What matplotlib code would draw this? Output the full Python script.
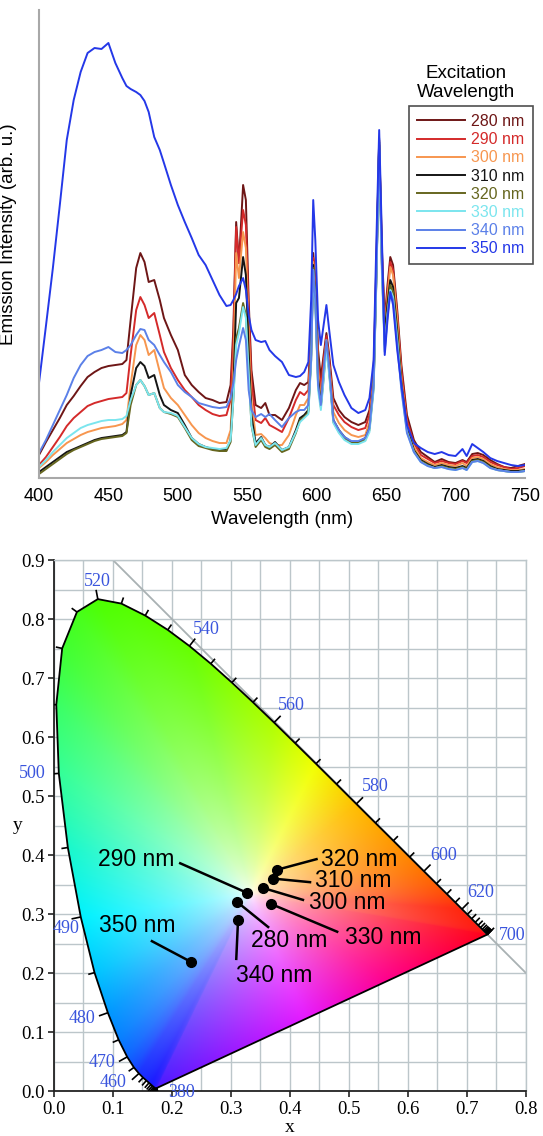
import numpy as np
import matplotlib
matplotlib.use('Agg')
import matplotlib.pyplot as plt
from matplotlib.patches import Polygon
from matplotlib.collections import LineCollection

plt.rcParams['font.family'] = 'Liberation Sans'

# ---- emission spectra (arb. u.) ----
wavelength = [400, 405, 410, 415, 420, 425, 430, 435, 440, 445, 450, 455, 460,
              463, 466, 470, 473, 476, 479, 483, 487, 490,
              495, 500, 505, 510, 515, 520, 525, 530, 535,
              538, 540, 542, 544, 547, 549, 551, 553, 556,
              560, 563, 566, 570, 575, 580, 585, 588, 591, 594,
              596, 597.5, 599, 601, 603, 605, 607, 609, 612, 616,
              620, 625, 630, 635, 638, 641, 643, 645, 647, 649, 651, 653, 655, 658, 661, 665, 670,
              675, 680, 685, 690, 695, 700, 705, 708, 712, 716, 720, 725, 730, 735, 740, 745, 750]

em_280 = [23, 36, 48, 60, 73, 82, 92, 101, 106, 110, 112, 113, 114,
          118, 158, 210, 225, 216, 196, 198, 178, 160,
          143, 128, 103, 93, 86, 80, 78, 75, 76,
          93, 150, 256, 215, 293, 278, 178, 108, 73,
          70, 75, 63, 63, 58, 70, 88, 95, 93, 96,
          148, 225, 198, 128, 100, 123, 145, 123, 80, 68,
          61, 56, 53, 56, 68, 108, 218, 338, 228, 158, 193, 221, 213, 168, 113, 63, 38,
          26, 21, 16, 19, 16, 15, 18, 16, 24, 25, 23, 18, 14, 11, 10, 12, 14]

em_290 = [13, 21, 31, 41, 52, 60, 66, 72, 75, 77, 79, 80, 81,
          85, 123, 168, 181, 173, 160, 165, 143, 126,
          110, 98, 88, 81, 73, 68, 64, 62, 63,
          78, 140, 251, 215, 268, 253, 168, 98, 58,
          55, 60, 53, 50, 46, 60, 78, 86, 83, 88,
          143, 220, 193, 118, 88, 118, 142, 118, 73, 63,
          56, 51, 48, 50, 63, 103, 213, 333, 223, 153, 186, 216, 208, 163, 108, 58, 35,
          23, 19, 15, 17, 15, 14, 17, 15, 22, 23, 21, 16, 13, 11, 9, 10, 12]

em_300 = [10, 16, 23, 29, 35, 39, 43, 46, 48, 50, 51, 52, 54,
          58, 93, 133, 143, 138, 123, 128, 106, 90,
          80, 73, 63, 53, 45, 40, 37, 35, 35,
          48, 110, 225, 200, 246, 230, 148, 78, 43,
          44, 40, 35, 33, 33, 43, 63, 73, 73, 80,
          133, 216, 188, 108, 78, 108, 138, 113, 66, 55,
          48, 43, 41, 43, 56, 98, 208, 338, 218, 148, 181, 211, 203, 158, 100, 53, 31,
          20, 16, 13, 15, 13, 12, 15, 12, 20, 21, 19, 14, 11, 9, 8, 8, 9]

em_310 = [6, 11, 16, 21, 26, 29, 32, 35, 38, 40, 41, 42, 43,
          46, 83, 110, 116, 112, 100, 103, 83, 73,
          68, 65, 53, 40, 34, 31, 29, 28, 28,
          38, 90, 175, 180, 221, 203, 128, 63, 35,
          41, 33, 31, 36, 28, 31, 48, 60, 63, 68,
          123, 213, 183, 100, 73, 103, 136, 108, 58, 48,
          41, 36, 36, 40, 50, 93, 203, 336, 213, 145, 175, 198, 191, 148, 95, 50, 28,
          18, 14, 11, 13, 11, 10, 12, 10, 18, 19, 17, 12, 9, 8, 7, 7, 8]

em_320 = [4, 9, 14, 19, 24, 28, 31, 34, 37, 39, 40, 41, 42,
          45, 73, 93, 98, 92, 83, 85, 70, 66,
          64, 61, 50, 38, 32, 30, 28, 27, 27,
          36, 80, 140, 150, 175, 163, 108, 53, 31,
          38, 31, 29, 33, 26, 29, 45, 58, 61, 66,
          118, 210, 178, 93, 71, 100, 133, 106, 56, 46,
          39, 35, 35, 38, 48, 90, 200, 333, 208, 133, 168, 193, 186, 143, 93, 48, 27,
          17, 13, 10, 12, 10, 9, 11, 9, 17, 18, 16, 11, 8, 7, 6, 6, 7]

em_330 = [11, 18, 26, 33, 40, 45, 50, 53, 55, 57, 58, 58, 59,
          62, 78, 93, 98, 92, 83, 85, 70, 66,
          65, 62, 51, 40, 34, 31, 30, 29, 30,
          38, 78, 133, 145, 171, 160, 106, 53, 33,
          40, 33, 31, 35, 28, 31, 46, 56, 60, 64,
          116, 208, 173, 88, 68, 98, 130, 103, 55, 45,
          38, 34, 34, 37, 46, 88, 198, 328, 203, 128, 163, 188, 181, 138, 90, 46, 26,
          16, 12, 10, 11, 9, 8, 10, 8, 16, 17, 15, 10, 8, 7, 6, 6, 7]

em_340 = [25, 38, 53, 68, 83, 100, 113, 122, 126, 128, 131, 126, 125,
          128, 133, 143, 149, 148, 138, 133, 123, 116,
          106, 93, 86, 81, 75, 73, 71, 70, 71,
          80, 95, 118, 132, 150, 138, 88, 68, 61,
          64, 61, 64, 58, 51, 60, 66, 68, 68, 73,
          118, 208, 178, 93, 73, 108, 138, 110, 58, 48,
          41, 37, 37, 40, 50, 93, 203, 340, 213, 126, 163, 186, 178, 133, 88, 45, 26,
          16, 12, 10, 11, 9, 8, 10, 8, 16, 17, 15, 10, 8, 7, 6, 6, 7]

em_350 = [95, 152, 210, 273, 338, 378, 406, 425, 430, 429, 435, 415, 400,
          392, 389, 386, 383, 377, 366, 341, 328, 315,
          293, 273, 256, 240, 223, 213, 198, 183, 172,
          173, 178, 184, 192, 200, 188, 163, 148, 138,
          136, 137, 128, 122, 116, 103, 101, 102, 106, 116,
          178, 278, 238, 158, 133, 153, 173, 148, 113, 96,
          83, 70, 65, 68, 80, 118, 238, 348, 238, 123, 158, 186, 173, 128, 93, 53, 35,
          30, 26, 24, 26, 23, 22, 29, 22, 34, 30, 26, 20, 17, 15, 13, 12, 13]

excitation = ['280 nm', '290 nm', '300 nm', '310 nm', '320 nm', '330 nm', '340 nm', '350 nm']
spectra = [em_280, em_290, em_300, em_310, em_320, em_330, em_340, em_350]
line_colors = ['#6e1616', '#d42a2a', '#f7964f', '#151515',
               '#66661f', '#7be5ee', '#5b80e8', '#2438e8']

# ---- CIE 1931 spectral locus (380-700 nm, 5 nm steps) ----
locus_nm = list(range(380, 701, 5))
locus_x = [0.1741, 0.1740, 0.1738, 0.1736, 0.1733, 0.1730, 0.1726, 0.1721, 0.1714, 0.1703,
           0.1689, 0.1669, 0.1644, 0.1611, 0.1566, 0.1510, 0.1440, 0.1355, 0.1241, 0.1096,
           0.0913, 0.0687, 0.0454, 0.0235, 0.0082, 0.0039, 0.0139, 0.0389, 0.0743, 0.1142,
           0.1547, 0.1929, 0.2296, 0.2658, 0.3016, 0.3373, 0.3731, 0.4087, 0.4441, 0.4788,
           0.5125, 0.5448, 0.5752, 0.6029, 0.6270, 0.6482, 0.6658, 0.6801, 0.6915, 0.7006,
           0.7079, 0.7140, 0.7190, 0.7230, 0.7260, 0.7283, 0.7300, 0.7311, 0.7320, 0.7327,
           0.7334, 0.7340, 0.7344, 0.7346, 0.7347]
locus_y = [0.0050, 0.0050, 0.0049, 0.0049, 0.0048, 0.0048, 0.0048, 0.0048, 0.0051, 0.0058,
           0.0069, 0.0086, 0.0109, 0.0138, 0.0177, 0.0227, 0.0297, 0.0399, 0.0578, 0.0868,
           0.1327, 0.2007, 0.2950, 0.4127, 0.5384, 0.6548, 0.7502, 0.8120, 0.8338, 0.8262,
           0.8059, 0.7816, 0.7543, 0.7243, 0.6923, 0.6589, 0.6245, 0.5896, 0.5547, 0.5202,
           0.4866, 0.4544, 0.4242, 0.3965, 0.3725, 0.3514, 0.3340, 0.3197, 0.3083, 0.2993,
           0.2920, 0.2859, 0.2809, 0.2770, 0.2740, 0.2717, 0.2700, 0.2689, 0.2680, 0.2673,
           0.2666, 0.2660, 0.2656, 0.2654, 0.2653]

# labelled locus wavelengths and text offsets from the locus point
locus_labels = [380, 460, 470, 480, 490, 500, 520, 540, 560, 580, 600, 620, 700]
label_offsets = {380: (0.042, -0.007), 460: (-0.043, -0.016), 470: (-0.043, -0.009),
                 480: (-0.044, -0.009), 490: (-0.025, -0.020), 500: (-0.045, 0.0),
                 520: (-0.001, 0.030), 540: (0.029, 0.028), 560: (0.030, 0.029),
                 580: (0.032, 0.029), 600: (0.034, 0.027), 620: (0.032, 0.029),
                 700: (0.042, -0.001)}

# chromaticity of the emission for each excitation
cie_x = [0.311, 0.327, 0.355, 0.372, 0.378, 0.368, 0.312, 0.232]
cie_y = [0.320, 0.336, 0.344, 0.360, 0.375, 0.317, 0.290, 0.219]
# leader line ends and label centres
lead_x = [0.363, 0.214, 0.422, 0.434, 0.445, 0.480, 0.309, 0.166]
lead_y = [0.278, 0.386, 0.324, 0.354, 0.393, 0.270, 0.224, 0.254]
text_x = [0.398, 0.139, 0.497, 0.508, 0.517, 0.5585, 0.374, 0.141]
text_y = [0.255, 0.392, 0.3195, 0.357, 0.392, 0.260, 0.196, 0.280]

# display colours along the locus and the line of purples
hue_nm = [380, 440, 460, 480, 490, 500, 510, 520, 540, 560, 570, 580, 600, 620, 700]
hue_r = [0.30, 0.10, 0.10, 0.00, 0.00, 0.20, 0.25, 0.30, 0.40, 0.70, 0.95, 1.00, 1.00, 1.00, 1.00]
hue_g = [0.10, 0.10, 0.20, 0.60, 0.95, 1.00, 1.00, 1.00, 1.00, 1.00, 1.00, 0.75, 0.45, 0.15, 0.00]
hue_b = [1.00, 1.00, 1.00, 1.00, 1.00, 0.60, 0.20, 0.00, 0.00, 0.00, 0.00, 0.00, 0.00, 0.05, 0.10]
purple_t = [0, 0.3, 0.55, 1]
purple_r = [1.00, 1.00, 0.90, 0.30]
purple_g = [0.00, 0.00, 0.10, 0.10]
purple_b = [0.10, 0.55, 1.00, 1.00]

fig = plt.figure(figsize=(5.43, 11.36), dpi=100)

# ================= emission spectra =================
ax1 = fig.add_axes([0.0718, 0.5792, 0.895, 0.412])
for vals, lab, col in zip(spectra, excitation, line_colors):
    ax1.plot(wavelength, vals, color=col, lw=1.4, label=lab)

ax1.set_xlim(400, 750)
ax1.set_ylim(0, 468)
ax1.set_xticks(range(400, 751, 50))
ax1.set_yticks([])
ax1.tick_params(axis='x', length=0, pad=7, labelsize=13)
for s in ['top', 'right']:
    ax1.spines[s].set_visible(False)
for s in ['left', 'bottom']:
    ax1.spines[s].set_color('#a8a8a8')
    ax1.spines[s].set_linewidth(1.5)
ax1.set_xlabel('Wavelength (nm)', fontsize=13.5)
ax1.xaxis.set_label_coords(0.5, -0.07)
ax1.set_ylabel('Emission Intensity (arb. u.)', fontsize=13.5)
ax1.yaxis.set_label_coords(-0.045, 0.52)

leg = ax1.legend(loc='upper right', bbox_to_anchor=(1.016, 0.795), fontsize=11.5,
                 frameon=True, fancybox=False, edgecolor='#222222',
                 handlelength=3.0, handletextpad=0.4, labelspacing=0.2,
                 borderpad=0.5, borderaxespad=0)
leg.get_frame().set_linewidth(1.2)
for txt, col in zip(leg.get_texts(), line_colors):
    txt.set_color(col)
ax1.text(0.878, 0.806, 'Excitation\nWavelength', transform=ax1.transAxes,
         ha='center', va='bottom', fontsize=13.5, linespacing=1.1)

# ================= CIE 1931 diagram =================
ax2 = fig.add_axes([0.0994, 0.0396, 0.8692, 0.4674])
ax2.set_xlim(0, 0.8)
ax2.set_ylim(0, 0.9)

grid_col = '#bcc6ca'
ax2.set_xticks(np.arange(0, 0.81, 0.1))
ax2.set_yticks(np.arange(0, 0.91, 0.1))
ax2.set_xticks(np.arange(0, 0.81, 0.05), minor=True)
ax2.set_yticks(np.arange(0, 0.91, 0.05), minor=True)
ax2.set_xticklabels(['%.1f' % v for v in np.arange(0, 0.81, 0.1)])
ax2.set_yticklabels(['%.1f' % v for v in np.arange(0, 0.91, 0.1)])
ax2.grid(which='both', color=grid_col, lw=1.0)
ax2.set_axisbelow(True)
ax2.tick_params(which='major', direction='out', length=4, width=1.2, color='#222222',
                labelsize=13.5, pad=3)
ax2.tick_params(which='minor', length=0)
for lab in ax2.get_xticklabels() + ax2.get_yticklabels():
    lab.set_family('Liberation Serif')
for s in ['top', 'right']:
    ax2.spines[s].set_color(grid_col)
    ax2.spines[s].set_linewidth(1.0)
for s in ['left', 'bottom']:
    ax2.spines[s].set_color('#222222')
    ax2.spines[s].set_linewidth(1.3)

ax2.set_xlabel('x', family='Liberation Serif', fontsize=14)
ax2.xaxis.set_label_coords(0.5, -0.052)
ax2.set_ylabel('y', family='Liberation Serif', fontsize=14, rotation=0, va='center')
ax2.yaxis.set_label_coords(-0.076, 0.5)

# colour fill: hue from the boundary point seen from the white point,
# saturation growing with distance from white
lx = np.array(locus_x)
ly = np.array(locus_y)
white = np.array([1 / 3, 1 / 3])
t = np.linspace(0, 1, 60)[1:-1]
px_ = lx[-1] + (lx[0] - lx[-1]) * t
py_ = ly[-1] + (ly[0] - ly[-1]) * t
locus_rgb = np.stack([np.interp(locus_nm, hue_nm, hue_r),
                      np.interp(locus_nm, hue_nm, hue_g),
                      np.interp(locus_nm, hue_nm, hue_b)], -1)
purple_rgb = np.stack([np.interp(t, purple_t, purple_r),
                       np.interp(t, purple_t, purple_g),
                       np.interp(t, purple_t, purple_b)], -1)
bx = np.concatenate([lx, px_])
by = np.concatenate([ly, py_])
bcol = np.concatenate([locus_rgb, purple_rgb])
bang = np.arctan2(by - white[1], bx - white[0])
bdist = np.hypot(bx - white[0], by - white[1])

gx = np.linspace(0, 0.8, 560)
gy = np.linspace(0, 0.9, 630)
X, Y = np.meshgrid(gx, gy)
ang = np.arctan2(Y - white[1], X - white[0])
dist = np.hypot(X - white[0], Y - white[1])
edge = np.interp(ang, bang, bdist, period=2 * np.pi)
sat = np.clip(dist / edge, 0, 1) ** 0.6
rgb = np.empty(X.shape + (3,))
for c in range(3):
    hue = np.interp(ang, bang, bcol[:, c], period=2 * np.pi)
    rgb[..., c] = 1 - sat * (1 - hue)

outline = Polygon(np.column_stack([lx, ly]), closed=True,
                  facecolor='none', edgecolor='black', lw=1.3, zorder=3)
ax2.add_patch(outline)
im = ax2.imshow(np.clip(rgb, 0, 1), extent=(0, 0.8, 0, 0.9), origin='lower',
                interpolation='bilinear', aspect='auto', zorder=1)
im.set_clip_path(outline)

# x + y = 1 line
ax2.plot([0.1, 0.8], [0.9, 0.2], color='#a9b1b3', lw=1.3, zorder=2)

# wavelength ticks on the locus (outward normals)
tx = np.gradient(lx)
ty = np.gradient(ly)
norm = np.hypot(tx, ty)
nx_, ny_ = -ty / norm, tx / norm
segs = []
for i, nm in enumerate(locus_nm):
    size = 0.016 if nm in locus_labels else 0.011
    segs.append([(lx[i], ly[i]), (lx[i] + nx_[i] * size, ly[i] + ny_[i] * size)])
ax2.add_collection(LineCollection(segs, colors='black', linewidths=1.2, zorder=3))

for nm in locus_labels:
    i = locus_nm.index(nm)
    dx, dy = label_offsets[nm]
    ax2.text(lx[i] + dx, ly[i] + dy, str(nm), color='#3a55dd', fontsize=13,
             family='Liberation Serif', ha='center', va='center', clip_on=False, zorder=4)

# excitation points with leader lines
for i, lab in enumerate(excitation):
    ax2.plot([cie_x[i], lead_x[i]], [cie_y[i], lead_y[i]], color='black', lw=1.8, zorder=5)
    ax2.plot(cie_x[i], cie_y[i], 'o', color='black', ms=7, zorder=6)
    ax2.text(text_x[i], text_y[i], lab, fontsize=16.5, ha='center', va='center', zorder=6)

fig.savefig('out.png', dpi=100)
